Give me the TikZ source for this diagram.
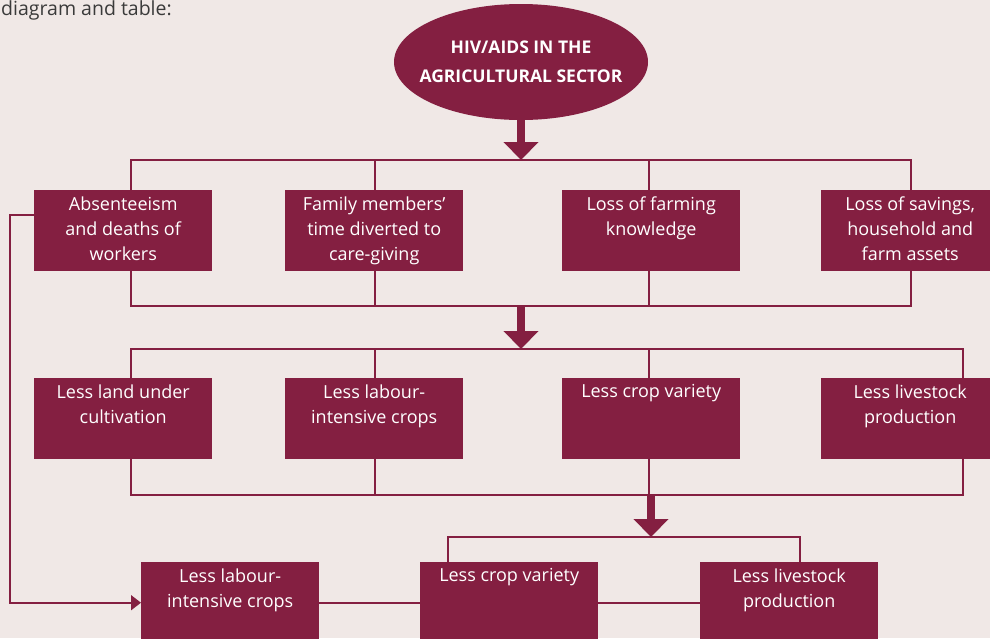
\documentclass[tikz,border=0pt]{standalone}
\usepackage{fontspec}
\setmainfont{Open Sans}
\usetikzlibrary{shapes.geometric,arrows.meta}
\definecolor{wine}{HTML}{841F41}
\definecolor{paper}{HTML}{F0E8E6}
\definecolor{ink}{HTML}{3A3A3A}

\begin{document}
\begin{tikzpicture}[x=1pt,y=-1pt,
	box/.style={fill=wine, minimum width=178pt, minimum height=81pt, anchor=north west, inner sep=0pt},
	boxtext/.style={anchor=north, text=white, align=center, inner sep=0pt, yshift=-6.5pt, font=\fontsize{18}{25}\selectfont},
	link/.style={draw=wine, line width=1.6pt},
	bigarrow/.style={draw=wine, line width=8pt, -{Triangle[width=34pt,length=18pt]}}]
				\clip (0,0) rectangle (990,638);
				\fill[paper] (0,0) rectangle (990,638);
				\node[anchor=base west, inner sep=0pt, text=ink, font=\fontsize{19.5}{22}\selectfont] (intro)at(1, 15) {diagram and table:};
				\node[draw=none, ellipse, fill=wine, minimum width=254pt, minimum height=116pt, inner xsep=-15pt, inner ysep=0pt, text=white, align=center, font=\bfseries\fontsize{17.5}{29}\selectfont] (hiv)at(521, 62) {HIV/AIDS IN THE\\AGRICULTURAL SECTOR};
				% first row: what the epidemic does
				\node[box, label={[boxtext]90:{Absenteeism\\and deaths of\\workers}}] (abs)at(34, 190) {};
				\node[box, label={[boxtext]90:{Family members'\\time diverted to\\care-giving}}] (fam)at(285, 190) {};
				\node[box, label={[boxtext]90:{Loss of farming\\knowledge}}] (know)at(562, 190) {};
				\node[box, label={[boxtext]90:{Loss of savings,\\household and\\farm assets}}] (assets)at(821, 190) {};
				% second row
				\node[box, label={[boxtext]90:{Less land under\\cultivation}}] (land)at(34, 378) {};
				\node[box, label={[boxtext]90:{Less labour-\\intensive crops}}] (labour)at(285, 378) {};
				\node[box, label={[boxtext]90:{Less crop variety}}] (variety)at(562, 378) {};
				\node[box, label={[boxtext]90:{Less livestock\\production}}] (stock)at(821, 378) {};
				% third row
				\node[box, label={[boxtext]90:{Less labour-\\intensive crops}}] (labourB)at(141, 562) {};
				\node[box, label={[boxtext]90:{Less crop variety}}] (varietyB)at(420, 562) {};
				\node[box, label={[boxtext]90:{Less livestock\\production}}] (stockB)at(700, 562) {};
				% junctions of the brackets
				\coordinate (j1) at (521, 160);
				\coordinate (j2) at (521, 306);
				\coordinate (j3) at (521, 349);
				\coordinate (j4) at (651, 495);
				\coordinate (j5) at (651, 537);
				\coordinate (back) at (10, 215);
				\draw[bigarrow] (hiv.south) -- (j1);
				\draw[link] ([xshift=8pt]abs.north) |- (j1) -| ([xshift=1pt]assets.north);
				\draw[link] ([xshift=1pt]fam.north) -- ([xshift=1pt]fam.north |- j1);
				\draw[link] ([xshift=-2pt]know.north) -- ([xshift=-2pt]know.north |- j1);
				\draw[link] ([xshift=8pt]abs.south) |- (j2) -| ([xshift=1pt]assets.south);
				\draw[link] ([xshift=1pt]fam.south) -- ([xshift=1pt]fam.south |- j2);
				\draw[link] ([xshift=-2pt]know.south) -- ([xshift=-2pt]know.south |- j2);
				\draw[bigarrow] ([yshift=-1pt]j2) -- (j3);
				\draw[link] ([xshift=8pt]land.north) |- (j3) -| ([xshift=53pt]stock.north);
				\draw[link] ([xshift=1pt]labour.north) -- ([xshift=1pt]labour.north |- j3);
				\draw[link] ([xshift=-2pt]variety.north) -- ([xshift=-2pt]variety.north |- j3);
				\draw[link] ([xshift=8pt]land.south) |- (j4) -| ([xshift=53pt]stock.south);
				\draw[link] ([xshift=1pt]labour.south) -- ([xshift=1pt]labour.south |- j4);
				\draw[link] ([xshift=-2pt]variety.south) -- ([xshift=-2pt]variety.south |- j4);
				\draw[bigarrow] (j4) -- (j5);
				\draw[link] ([xshift=-61pt]varietyB.north) |- (j5) -| ([xshift=11pt]stockB.north);
				\draw[link] (labourB.east) -- (varietyB.west);
				\draw[link] (varietyB.east) -- (stockB.west);
				\draw[link, -{Triangle[width=15pt,length=10pt]}] (abs.west |- back) -- (back) |- (labourB.west);
			\end{tikzpicture}
\end{document}
